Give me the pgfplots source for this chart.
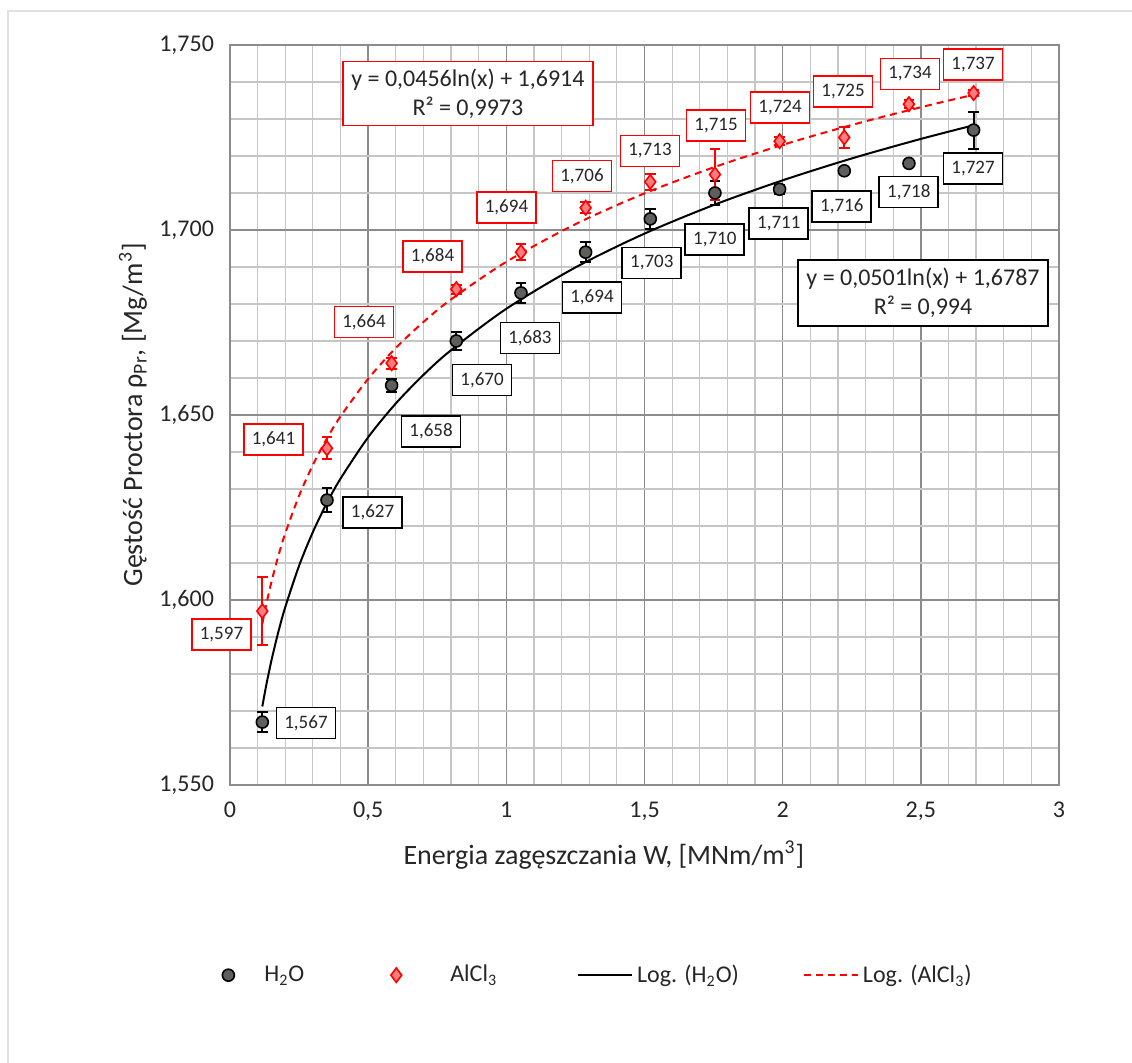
\documentclass[border=0pt]{standalone}
\usepackage{pgfplots}
\usepackage{pgfplotstable}
\pgfplotsset{compat=1.18}
\usepackage{fontspec}
\setmainfont{Carlito}
\definecolor{majgrid}{HTML}{8C8C8C}
\definecolor{mingrid}{HTML}{C6C6C6}
\definecolor{hgray}{HTML}{5E5E5A}
\definecolor{afill}{HTML}{FF7C80}
\definecolor{txt}{HTML}{262626}

\pgfplotsset{
  markleg/.style={legend image code/.code={\path[draw=none, fill=none] (0pt,0pt) -- (#1,0pt);\draw[##1, mark repeat=2, mark phase=2] plot coordinates {(0pt,0pt)(13.5pt,0pt)(27pt,0pt)};}},
  lineleg/.style={legend image code/.code={\draw[##1] (0pt,0pt) -- (27pt,0pt);}}
}

\pgfplotstableread{
x y e
0.117 1.567 0.0028
0.351 1.627 0.0032
0.585 1.658 0.0017
0.819 1.670 0.0025
1.053 1.683 0.0028
1.287 1.694 0.0027
1.521 1.703 0.0026
1.755 1.710 0.0033
1.989 1.711 0.0012
2.223 1.716 0.0008
2.457 1.718 0.0010
2.691 1.727 0.0050
}\htwo

\pgfplotstableread{
x y e
0.117 1.597 0.0092
0.351 1.641 0.0030
0.585 1.664 0.0015
0.819 1.684 0.0012
1.053 1.694 0.0022
1.287 1.706 0.0015
1.521 1.713 0.0022
1.755 1.715 0.0070
1.989 1.724 0.0010
2.223 1.725 0.0029
2.457 1.734 0.0010
2.691 1.737 0.0008
}\alcl

\tikzset{
  lb/.style={draw=black, line width=0.9pt, fill=white, font=\fontsize{9.5}{10}\selectfont, text=txt, minimum width=29.5pt, minimum height=15.5pt, inner sep=0pt},
  lr/.style={lb, draw=red}
}

\begin{document}
\begin{tikzpicture}
\path[use as bounding box] (-115pt,-139pt) rectangle (451pt,392.5pt);
\draw[black!12, line width=0.8pt] (-111pt,-139pt) -- (-111pt,387pt) -- (451pt,387pt);
\begin{axis}[
  at={(0pt,0pt)}, anchor=south west,
  scale only axis, width=414.5pt, height=370pt,
  xmin=0, xmax=3, ymin=1.55, ymax=1.75,
  xtick={0,0.5,1,1.5,2,2.5,3},
  ytick={1.55,1.6,1.65,1.7,1.75},
  minor x tick num=4, minor y tick num=4,
  grid=both,
  major grid style={majgrid, line width=0.7pt},
  minor grid style={mingrid, line width=0.6pt},
  axis line style={majgrid, line width=0.8pt},
  major tick length=0pt, minor tick length=0pt,
  clip=false,
  tick label style={font=\fontsize{12}{14}\selectfont, text=txt},
  xticklabel style={/pgf/number format/use comma, /pgf/number format/fixed, /pgf/number format/assume math mode=true, yshift=-5pt},
  yticklabel style={/pgf/number format/use comma, /pgf/number format/fixed, /pgf/number format/fixed zerofill, /pgf/number format/precision=3, /pgf/number format/assume math mode=true, xshift=-4.5pt},
  xlabel={Energia zagęszczania W, [MNm/m\textsuperscript{3}]},
  ylabel={Gęstość Proctora ρ\textsubscript{Pr}, [Mg/m\textsuperscript{3}]},
  label style={font=\fontsize{14}{16}\selectfont, text=txt},
  x label style={at={(axis description cs:0.451,-0.0946)}, anchor=center},
  y label style={at={(axis description cs:-0.117,0.5)}, anchor=center},
  legend style={at={(axis description cs:-0.035,-0.257)}, anchor=west, draw=none, fill=none, inner sep=0pt,
    font=\fontsize{12}{14}\selectfont, text=txt, legend columns=4,
    /tikz/column 2/.style={column sep=30.5pt},
    /tikz/column 4/.style={column sep=38pt},
    /tikz/column 6/.style={column sep=30pt}},
  legend cell align=left,
]
% trend lines (points on the fitted curves shown in the chart)
\addplot[black, line width=1pt, smooth, no marks, forget plot] coordinates {
(0.117,1.57121)(0.13,1.57649)(0.15,1.58366)(0.175,1.59138)(0.2,1.59807)(0.25,1.60925)
(0.3,1.61838)(0.35,1.62611)(0.4,1.63279)(0.5,1.64398)(0.6,1.65311)(0.7,1.66083)
(0.8,1.66752)(1.0,1.6787)(1.25,1.68988)(1.5,1.69902)(1.75,1.70674)(2.0,1.71342)
(2.25,1.71933)(2.5,1.72461)(2.691,1.72829)};
\addplot[red, line width=1pt, dash pattern=on 3.5pt off 2.5pt, smooth, no marks, forget plot] coordinates {
(0.117,1.59356)(0.13,1.59837)(0.15,1.60489)(0.175,1.61192)(0.2,1.61801)(0.25,1.62818)
(0.3,1.6365)(0.35,1.64353)(0.4,1.64962)(0.5,1.65979)(0.6,1.66811)(0.7,1.67513)
(0.8,1.68123)(1.0,1.6914)(1.25,1.70157)(1.5,1.70989)(1.75,1.71692)(2.0,1.72301)
(2.25,1.72838)(2.5,1.73318)(2.691,1.73654)};
% data
\addplot[black, only marks, mark=*, mark size=3pt, mark options={fill=hgray, draw=black, line width=0.8pt},
  markleg=29.5pt,
  error bars/.cd, y dir=both, y explicit,
  error bar style={black, line width=1pt},
  error mark options={rotate=90, black, mark size=2.7pt, line width=1pt}]
  table[x=x, y=y, y error=e] {\htwo};
\addplot[red, only marks, mark=diamond*, mark size=3.6pt, mark options={fill=afill, draw=red, line width=0.8pt},
  markleg=38.5pt,
  error bars/.cd, y dir=both, y explicit,
  error bar style={red, line width=1pt},
  error mark options={rotate=90, red, mark size=2.7pt, line width=1pt}]
  table[x=x, y=y, y error=e] {\alcl};
% legend-only line entries
\addplot[black, line width=1pt, no marks, lineleg] coordinates {(-1,0)};
\addplot[red, line width=1pt, dash pattern=on 3.5pt off 2.5pt, no marks, lineleg] coordinates {(-1,0)};
\legend{H\textsubscript{2}O, AlCl\textsubscript{3}, Log. (H\textsubscript{2}O), Log. (AlCl\textsubscript{3})}

% data labels H2O
\node[lb] at (axis cs:0.275,1.56676) {1,567};
\node[lb] at (axis cs:0.5157,1.62365) {1,627};
\node[lb] at (axis cs:0.7274,1.64554) {1,658};
\node[lb] at (axis cs:0.912,1.65946) {1,670};
\node[lb] at (axis cs:1.0855,1.67081) {1,683};
\node[lb] at (axis cs:1.310,1.68176) {1,694};
\node[lb] at (axis cs:1.5264,1.69108) {1,703};
\node[lb] at (axis cs:1.7544,1.69743) {1,710};
\node[lb] at (axis cs:1.9861,1.70176) {1,711};
\node[lb] at (axis cs:2.2141,1.70635) {1,716};
\node[lb] at (axis cs:2.4566,1.71027) {1,718};
\node[lb] at (axis cs:2.6888,1.71662) {1,727};
% data labels AlCl3
\node[lr] at (axis cs:-0.0308,1.59068) {1,597};
\node[lr] at (axis cs:0.1574,1.64338) {1,641};
\node[lr] at (axis cs:0.4849,1.67514) {1,664};
\node[lr] at (axis cs:0.7328,1.69284) {1,684};
\node[lr] at (axis cs:1.0006,1.70608) {1,694};
\node[lr] at (axis cs:1.2738,1.71459) {1,706};
\node[lr] at (axis cs:1.5199,1.72135) {1,713};
\node[lr] at (axis cs:1.7588,1.72824) {1,715};
\node[lr] at (axis cs:1.9904,1.73311) {1,724};
\node[lr] at (axis cs:2.2184,1.73743) {1,725};
\node[lr] at (axis cs:2.4608,1.74216) {1,734};
\node[lr] at (axis cs:2.6888,1.74473) {1,737};
% equations
\node[draw=red, line width=0.9pt, fill=white, minimum width=125pt, minimum height=32pt, inner sep=0pt,
  align=center, font=\fontsize{12}{14.5}\selectfont, text=txt] at (axis cs:0.861,1.7369)
  {y = 0,0456ln(x) + 1,6914\\R² = 0,9973};
\node[draw=black, line width=0.9pt, fill=white, minimum width=125pt, minimum height=33pt, inner sep=0pt,
  align=center, font=\fontsize{12}{14.5}\selectfont, text=txt] at (axis cs:2.508,1.68297)
  {y = 0,0501ln(x) + 1,6787\\R² = 0,994};
\end{axis}
\end{tikzpicture}
\end{document}
